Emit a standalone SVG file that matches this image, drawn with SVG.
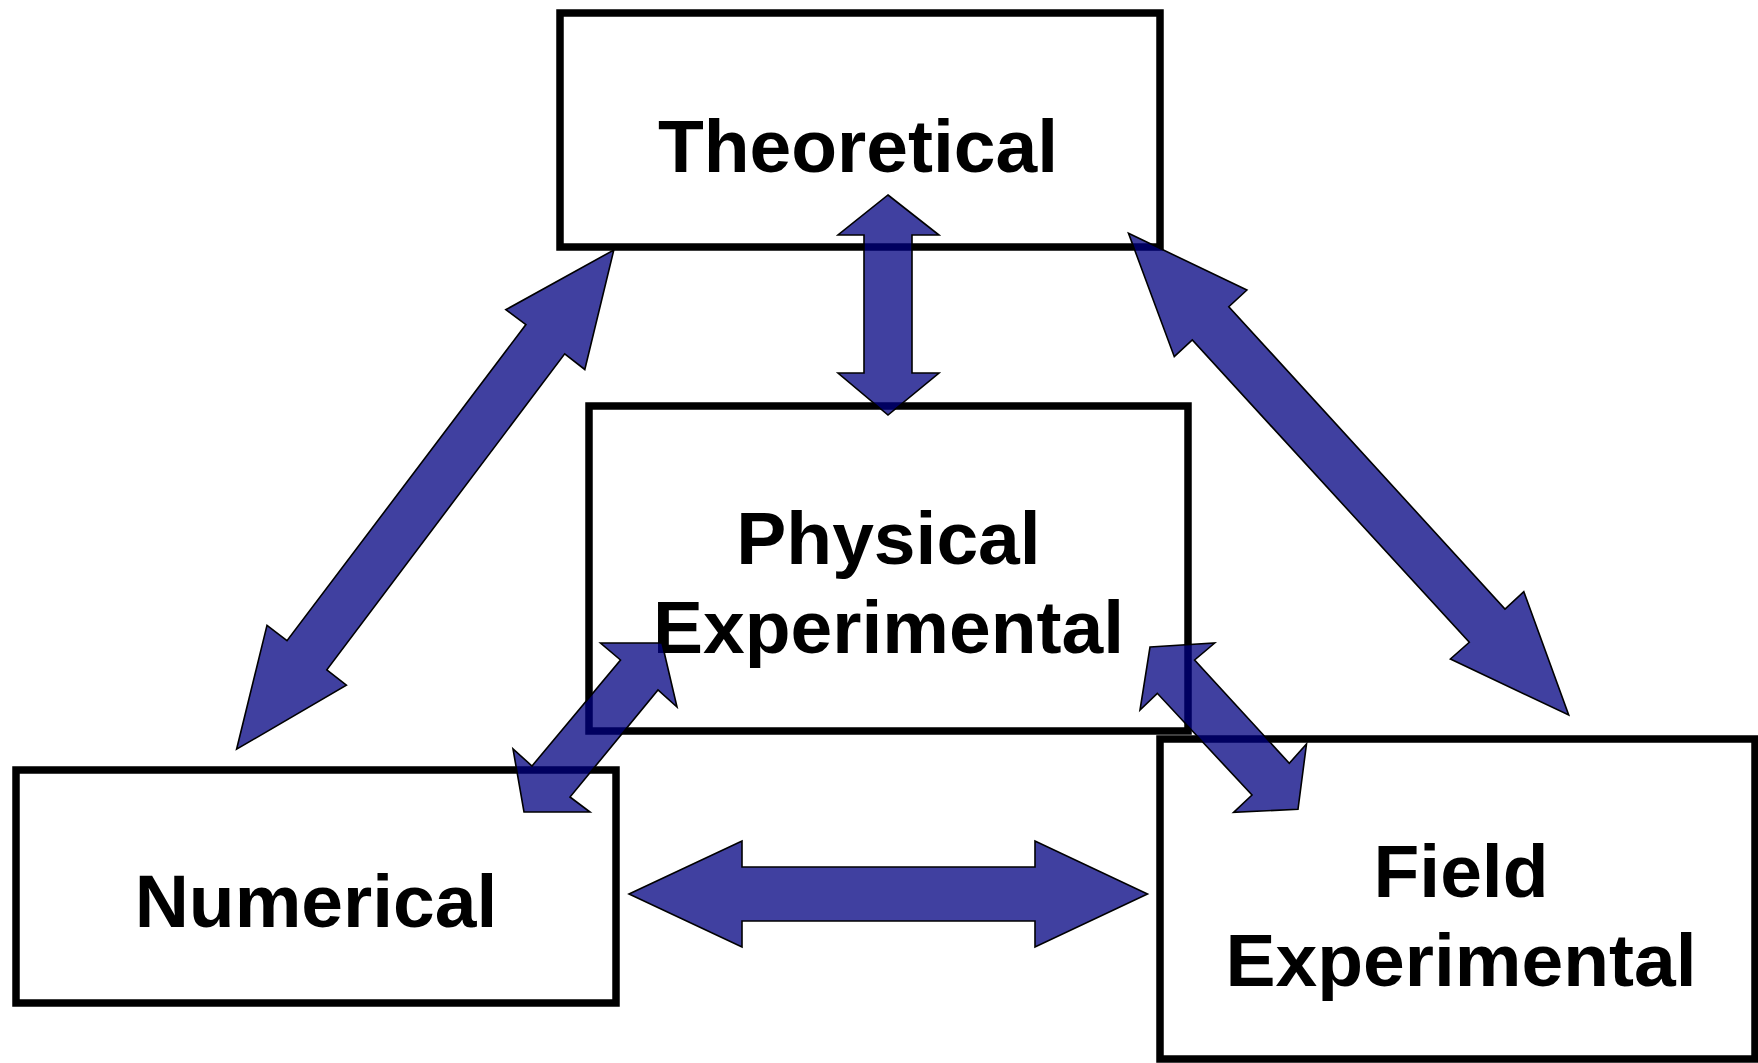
<svg xmlns="http://www.w3.org/2000/svg" width="1758" height="1063" viewBox="0 0 1758 1063">
<style>
.box{fill:#ffffff;stroke:#000000;stroke-width:7.5}
.lbl{font-family:"Liberation Sans",Arial,sans-serif;font-weight:bold;font-size:75px;fill:#000000;text-anchor:middle}
.arr{fill:#000080;fill-opacity:0.75;stroke:#000000;stroke-width:1.6;stroke-linejoin:miter}
</style>
<rect width="1758" height="1063" fill="#ffffff"/>
<g id="node-theoretical">
<rect class="box" x="560" y="13" width="600" height="234"/>
<text class="lbl" x="858" y="172">Theoretical</text>
</g>
<g id="node-physical">
<rect class="box" x="589" y="406" width="599" height="325"/>
<text class="lbl" x="888.5" y="564">Physical</text>
<text class="lbl" x="888.5" y="653">Experimental</text>
</g>
<g id="node-numerical">
<rect class="box" x="16" y="770" width="600" height="233"/>
<text class="lbl" x="316" y="927">Numerical</text>
</g>
<g id="node-field">
<rect class="box" x="1160" y="739" width="595" height="320"/>
<text class="lbl" x="1461" y="897">Field</text>
<text class="lbl" x="1461" y="986">Experimental</text>
</g>
<g id="connectors">
<polygon class="arr" points="888,195 939,235 912,235 912,373 939,373 888,415 838,373 864,373 864,235 838,235"/>
<polygon class="arr" points="629,894 742,841 742,867 1035,867 1035,841 1147.5,894 1035,947 1035,921 742,921 742,947"/>
<polygon class="arr" points="613.8,250 584.8,369.5 564.7,353.8 326.8,669.8 346.4,685.2 236.6,749.2 267,625.4 287,640.7 525.9,324.6 505.8,309.7"/>
<polygon class="arr" points="1128.5,233.3 1246.9,290 1228.8,306.7 1505,609 1523.8,591.7 1568.7,715 1450.4,659 1469.3,642.3 1192.3,340 1174.3,356.7"/>
<polygon class="arr" points="662,643 677,707 658,690 570,797 590,812 524,812 513,749 532,766 620.5,660 600.5,643"/>
<polygon class="arr" points="1150,647 1214.7,643 1194.6,660 1289.3,763.3 1306.5,744 1298,809.3 1233.6,812.3 1252,795 1157.3,693.3 1140,710"/>
</g>
</svg>
